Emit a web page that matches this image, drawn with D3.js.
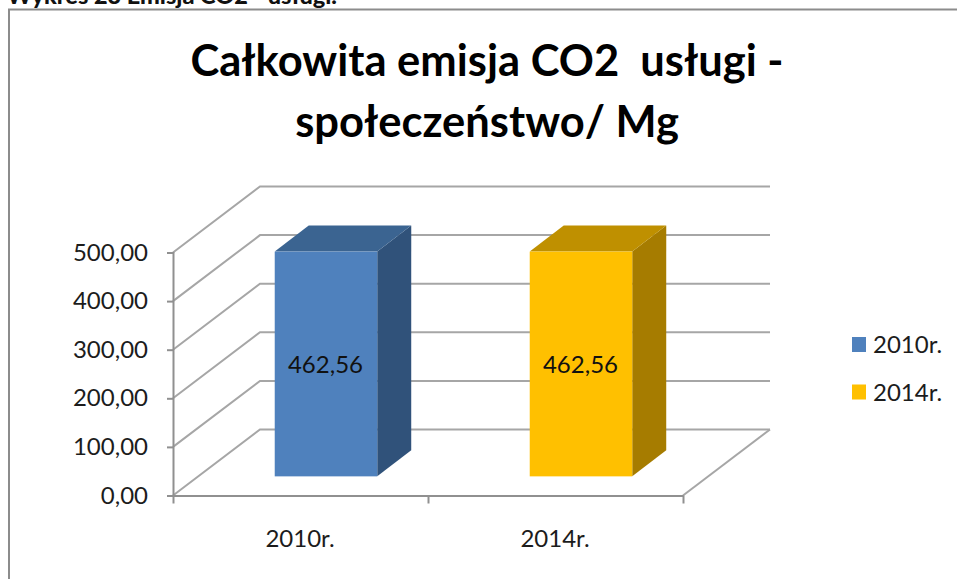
<!DOCTYPE html>
<html><head><meta charset="utf-8">
<script src="https://cdn.jsdelivr.net/npm/d3@7/dist/d3.min.js"></script>
<style>html,body{margin:0;background:#fff}svg{display:block}text{font-family:Lato,"Open Sans",sans-serif}</style>
</head><body><svg id="c" width="957" height="579"></svg>
<script>
const categories = ["2010r.", "2014r."];
const values = [462.56, 462.56];
const valueLabels = ["462,56", "462,56"];
const yTicks = [0, 100, 200, 300, 400, 500];
const titleLines = ["Całkowita emisja CO2  usługi -", "społeczeństwo/ Mg"];
const caption = "Wykres 23 Emisja CO2 - usługi.";
const frontColors = ["#4F81BD", "#FFC000"];
const topColors = ["#3B6491", "#BF9000"];
const sideColors = ["#30527A", "#A67C00"];

const svg = d3.select("#c");
const fmt = v => v.toFixed(2).replace(".", ",");
const grid = "#A6A6A6", axisC = "#909090", ink = "#1c1c1c";
const y = d3.scaleLinear().domain([0, 500]).range([495.5, 252.5]);
const bandX = d3.scalePoint().domain(categories).range([173, 683]).padding(0.5);
const backDx = 87, backDy = -66;   // wall offset of the 3D box
const barBase = 0.29;              // position of bar front on the floor depth
const depthDx = 34, depthDy = -26;

// caption and frame
svg.append("text").attr("x", 7).attr("y", 4).attr("font-size", 23.5).attr("font-weight", 900).attr("fill", "#111").text(caption);
svg.append("path").attr("d", "M9,579V9.5H957").attr("fill", "none").attr("stroke", "#8c8c8c").attr("stroke-width", 2);

// title
svg.append("g").selectAll("text").data(titleLines).join("text")
  .attr("x", 487).attr("y", (d, i) => 76 + i * 61)
  .attr("text-anchor", "middle").attr("font-size", 43.5).attr("font-weight", 700).attr("fill", "#000")
  .attr("xml:space", "preserve").style("white-space", "pre").text(d => d);

// gridlines on the side and back walls
svg.append("g").selectAll("path").data(yTicks).join("path")
  .attr("d", d => `M173,${y(d)}L${173 + backDx},${y(d) + backDy}H${683 + backDx}`)
  .attr("fill", "none").attr("stroke", grid).attr("stroke-width", 2);
// floor right edge
svg.append("path").attr("d", `M683,${y(0)}L${683 + backDx},${y(0) + backDy}`)
  .attr("fill", "none").attr("stroke", grid).attr("stroke-width", 2);

// axes
const yAxis = d3.axisLeft(y).tickValues(yTicks).tickFormat(fmt).tickSize(6).tickPadding(19);
const yG = svg.append("g").attr("transform", "translate(173,0)").call(yAxis);
const xAxis = d3.axisBottom(d3.scaleLinear().domain([0, 2]).range([173, 683])).tickValues([0, 1, 2]).tickFormat("").tickSize(8).tickSizeOuter(0);
const xG = svg.append("g").attr("transform", `translate(0,${y(0)})`).call(xAxis);
[yG, xG].forEach(g => { g.selectAll("path,line").attr("stroke", axisC).attr("stroke-width", 2); });
yG.selectAll("text").attr("font-size", 24).attr("fill", ink).style("font-family", "Lato");

// category labels
svg.append("g").selectAll("text").data(categories).join("text")
  .attr("x", d => bandX(d) - 0.5).attr("y", 547).attr("text-anchor", "middle")
  .attr("font-size", 24).attr("fill", ink).text(d => d);

// bars
const bx = d => bandX(d) + backDx * barBase - 51;
const bw = 102.5;
const by0 = y(0) + backDy * barBase;
const barH = v => y(0) - y(v);
const bars = svg.append("g").selectAll("g").data(categories).join("g");
bars.append("path").attr("fill", (d, i) => sideColors[i])
  .attr("d", (d, i) => { const l = bx(d) + bw, t = by0 - barH(values[i]);
    return `M${l},${t}l${depthDx},${depthDy}V${by0 + depthDy}L${l},${by0}Z`; });
bars.append("path").attr("fill", (d, i) => topColors[i])
  .attr("d", (d, i) => { const l = bx(d), t = by0 - barH(values[i]);
    return `M${l},${t}l${depthDx},${depthDy}h${bw}l${-depthDx},${-depthDy}Z`; });
bars.append("rect").attr("fill", (d, i) => frontColors[i])
  .attr("x", bx).attr("width", bw)
  .attr("y", (d, i) => by0 - barH(values[i])).attr("height", (d, i) => barH(values[i]));
bars.append("text").attr("x", d => bx(d) + bw / 2 - 0.5).attr("y", (d, i) => by0 - barH(values[i]) / 2 + 9)
  .attr("text-anchor", "middle").attr("font-size", 24).attr("fill", "#111").text((d, i) => valueLabels[i]);

// legend
const leg = svg.append("g").selectAll("g").data(categories).join("g")
  .attr("transform", (d, i) => `translate(852,${337 + i * 47.5})`);
leg.append("rect").attr("width", 14).attr("height", 15).attr("fill", (d, i) => frontColors[i]);
leg.append("text").attr("x", 21).attr("y", 16).attr("font-size", 24).attr("fill", ink).text(d => d);
</script></body></html>
